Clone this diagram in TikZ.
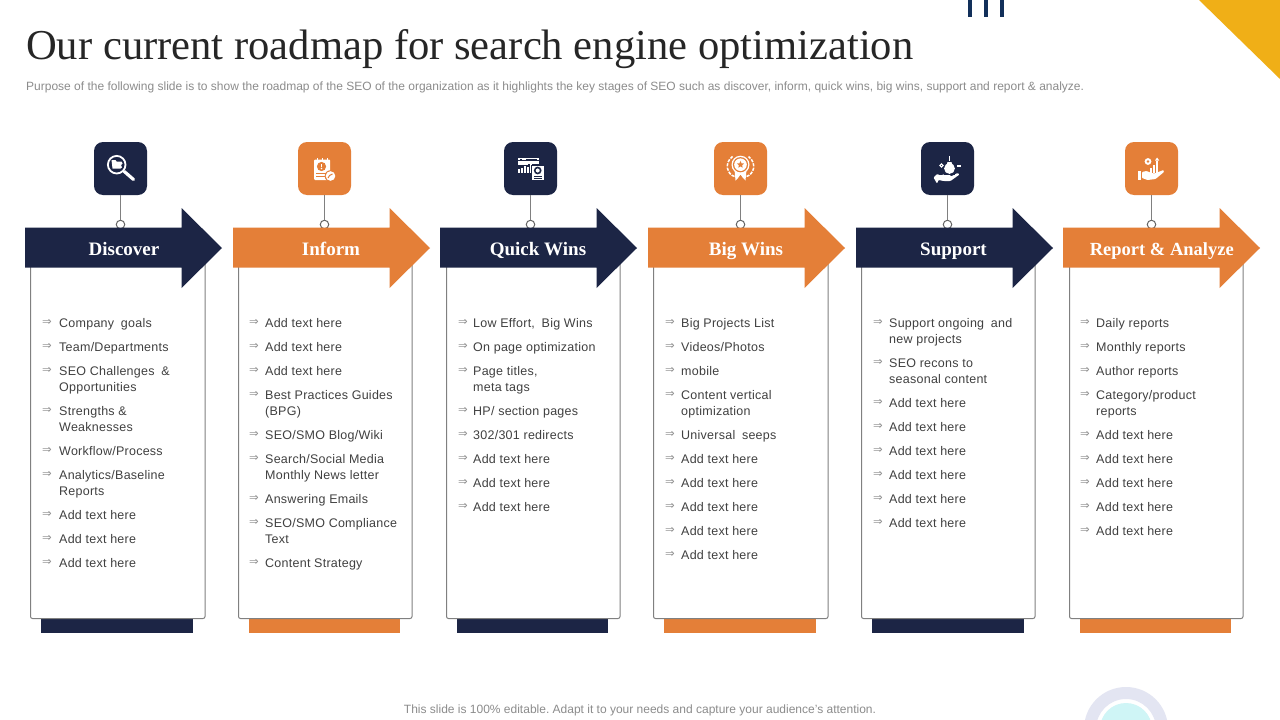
\documentclass[tikz,border=0pt]{standalone}
\usepackage{fontspec}
\setmainfont{Liberation Sans}
\newfontfamily\serifb{Liberation Serif}
\newfontfamily\symb{DejaVu Sans}
\newfontfamily\bodyf[LetterSpace=2]{Liberation Sans}
\usetikzlibrary{shapes.geometric}
\definecolor{navy}{HTML}{1C2545}
\definecolor{orng}{HTML}{E47F38}
\definecolor{gold}{HTML}{F0AF17}
\definecolor{barblue}{HTML}{12305A}
\definecolor{linegray}{HTML}{808080}
\definecolor{bodytxt}{HTML}{404040}
\definecolor{subtxt}{HTML}{8C8C8C}
\definecolor{ringc}{HTML}{E3E5F2}
\definecolor{cyanc}{HTML}{CFF5F6}
\definecolor{titlec}{HTML}{262626}
\newcommand{\wgap}{\hspace{3pt}}
\frenchspacing
\tikzset{
  x=1pt,y=-1pt,
  card/.style={draw=linegray,line width=1pt,fill=white,rounded corners=2pt},
  iconbox/.style={minimum width=53pt,minimum height=53pt,inner sep=0pt,rounded corners=9pt,draw=none},
  knob/.style={circle,draw=linegray!80!black,fill=white,line width=1pt,minimum size=8.5pt,inner sep=0pt},
  stem/.style={draw=linegray,line width=1pt},
  head/.style={anchor=base,font=\serifb\bfseries\fontsize{19}{22}\selectfont,inner sep=0pt},
  itemtxt/.style={anchor=north west,inner sep=0pt,align=left,text=bodytxt,font=\bodyf\fontsize{12.5}{16}\selectfont},
  bul/.style={inner sep=0pt,text=linegray!85,font=\symb\fontsize{11.5}{12}\selectfont},
}
\newcommand{\colitems}[4]{%
  \foreach \yy/\tt [count=\n] in {#4}{%
    \node[bul] (b#1\n) at (#2+5,\yy+0.7) {⇒};
    \node[itemtxt] (t#1\n) at (#3,\yy-6) {\strut\tt};
  }}
\newcommand{\stage}[9]{%
  \fill[#3] (#8,619) rectangle (#9,633);
  \node[card,minimum width=#7-#6,minimum height=357.5pt,anchor=north west,inner sep=0pt] (card#1) at (#6,260.5) {};
  \node[iconbox,fill=#3] (icon#1) at (\cx,168.5) {};
  \node[knob] (dot#1) at (\cx,224.5) {};
  \draw[stem] (icon#1.south) -- (dot#1.north);
  \fill[#3] (#2,227.5) -- (#2+156.5,227.5) -- (#2+156.5,208) -- (#2+197,248) -- (#2+156.5,288) -- (#2+156.5,267.5) -- (#2,267.5) -- cycle;
  \node[head,text=white] (label#1) at (#4,255) {#5};
}
\begin{document}
\begin{tikzpicture}
\useasboundingbox (0,0) rectangle (1280,720);
\clip (0,0) rectangle (1280,720);
\fill[white] (0,0) rectangle (1280,720);
% top decoration
\fill[gold] (1199,0) -- (1280,0) -- (1280,79) -- cycle;
\fill[barblue] (968,0) rectangle (972,17);
\fill[barblue] (984,0) rectangle (988,17);
\fill[barblue] (1000,0) rectangle (1004,17);
% bottom decoration
\fill[even odd rule,ringc] (1126,729) circle (42) (1126,729) circle (30);
\fill[cyanc] (1126,729) circle (26);
% title
\node[anchor=base west,inner sep=0pt,text=titlec,font=\serifb\fontsize{42.6}{46}\selectfont] (title) at (26,59) {Our current roadmap for search engine optimization};
\node[anchor=base west,inner sep=0pt,text=subtxt,font=\fontsize{12}{14}\selectfont] (sub) at (26,90) {Purpose of the following slide is to show the roadmap of the SEO of the organization as it highlights the key stages of SEO such as discover, inform, quick wins, big wins, support and report \& analyze.};
\node[inner sep=0pt,text=subtxt,font=\fontsize{12}{14}\selectfont] (foot) at (640,710.5) {This slide is 100\% editable. Adapt it to your needs and capture your audience's attention.};

\def\cx{120.5}\stage{a}{25}{navy}{124}{Discover}{30}{204.5}{41}{193}
\def\cx{324.5}\stage{b}{233}{orng}{331}{Inform}{238}{411.5}{249}{400}
\def\cx{530.5}\stage{c}{440}{navy}{538}{Quick Wins}{446}{619.5}{457}{608}
\def\cx{740.5}\stage{d}{648}{orng}{746}{Big Wins}{653}{827.5}{664}{816}
\def\cx{947.5}\stage{e}{856}{navy}{953.5}{Support}{861}{1034.5}{872}{1024}
\def\cx{1151.5}\stage{f}{1063}{orng}{1161.8}{\fontsize{18.5}{22}\selectfont Report \& Analyze}{1069}{1242.5}{1080}{1231}

\colitems{a}{42}{59}{322/{Company\wgap{} goals},346/{Team/Departments},370/{SEO Challenges\wgap{} \&\\Opportunities},410/{Strengths \&\\Weaknesses},450/{Workflow/Process},474/{Analytics/Baseline\\Reports},514/{Add text here},538/{Add text here},562/{Add text here}}
\colitems{b}{249}{265}{322/{Add text here},346/{Add text here},370/{Add text here},394/{Best Practices Guides\\(BPG)},434/{SEO/SMO Blog/Wiki},458/{Search/Social Media\\Monthly News letter},498/{Answering Emails},522/{SEO/SMO Compliance\\Text},562/{Content Strategy}}
\colitems{c}{458}{473}{322/{Low Effort,\wgap{} Big Wins},346/{On page optimization},370/{Page titles,\\meta tags},410/{HP/ section pages},434/{302/301 redirects},458/{Add text here},482/{Add text here},506/{Add text here}}
\colitems{d}{665}{681}{322/{Big Projects List},346/{Videos/Photos},370/{mobile},394/{Content vertical\\optimization},434/{Universal\wgap{} seeps},458/{Add text here},482/{Add text here},506/{Add text here},530/{Add text here},554/{Add text here}}
\colitems{e}{873}{889}{322/{Support ongoing\wgap{} and\\new projects},362/{SEO recons to\\seasonal content},402/{Add text here},426/{Add text here},450/{Add text here},474/{Add text here},498/{Add text here},522/{Add text here}}
\colitems{f}{1080}{1096}{322/{Daily reports},346/{Monthly reports},370/{Author reports},394/{Category/product\\reports},434/{Add text here},458/{Add text here},482/{Add text here},506/{Add text here},530/{Add text here}}

% icon 1: magnifier
\begin{scope}[shift={(120.5,168.5)}]
  \draw[white,line width=1.8pt] (-3.8,-3.8) circle (8.8);
  \fill[white] (-9,-8.5) -- (-5,-8.5) -- (-4,-7) -- (1,-7) -- (2,-5) -- (0.5,-3.5) -- (1.5,-1) -- (0,0) -- (-8,0) -- cycle;
  \draw[white,line width=3.2pt,line cap=round] (3.8,3) -- (13,11);
\end{scope}
% icon 2: notepad
\begin{scope}[shift={(324.5,168.5)}]
  \fill[white,rounded corners=1pt] (-10.5,-9) rectangle (5.5,11.5);
  \fill[white] (-8,-11) rectangle (-7,-8);\fill[white] (-3,-11) rectangle (-2,-8);\fill[white] (2,-11) rectangle (3,-8);
  \fill[orng] (-3,-2) circle (4.6);
  \fill[white] (-3.6,-5) rectangle (-2.4,-1.4);\fill[white] (-3,0) circle (0.8);
  \fill[orng] (-9,4.2) rectangle (2,5.2);\fill[orng] (-9,7.5) rectangle (0,8.5);
  \fill[orng] (6,7.5) circle (5.8);
  \fill[white] (6,7.5) circle (4.8);
  \draw[orng,line width=1pt] (3.5,9.5) to[bend left=30] (8,5.5);
\end{scope}
% icon 3: dashboard
\begin{scope}[shift={(530.5,168.5)}]
  \fill[white] (-13,-11) rectangle (8,-8.2);
  \fill[navy] (-11,-10) rectangle (-9,-9.2);\fill[navy] (-5,-10) rectangle (6,-9.2);
  \fill[white] (-13,-7.2) rectangle (8,-5);
  \fill[white] (-13,-4.2) rectangle (-3,-3.4);
  \foreach \bx/\by in {-13/0,-10/-1,-7/-2.5,-4/-2,-1/-4.4,2/-2}{\fill[white] (\bx,\by) rectangle (\bx+2.2,4.5);}
  \fill[navy] (0.5,-4) rectangle (14,12);
  \fill[white] (1.5,-3) rectangle (13,11);
  \draw[navy,line width=1.6pt] (7.2,2) circle (3);
  \fill[navy] (3.5,7.2) rectangle (11,8);
  \fill[navy] (3.5,9) rectangle (11,9.6);
\end{scope}
% icon 4: badge
\begin{scope}[shift={(740.5,168.5)}]
  \fill[white] (-6,1) -- (-5,12) -- (-2.5,9.5) -- (0,6) -- (2.5,9.5) -- (5,12) -- (6,1) -- cycle;
  \fill[orng] (0,7) -- (-1.2,12.5) -- (1.2,12.5) -- cycle;
  \fill[white] (0,-3.8) circle (9);
  \fill[orng] (0,-3.8) circle (7.6);
  \fill[white] (0,-3.8) circle (6.3);
  \node[star,star points=5,star point ratio=2.2,fill=orng,minimum size=7.5pt,inner sep=0pt] (star4) at (0,-3.8) {};
  \draw[white,line width=1.5pt,dash pattern=on 3.2pt off 1.2pt] (-6,8) .. controls (-13,6) and (-17,-5) .. (-8,-12);
  \draw[white,line width=1.5pt,dash pattern=on 3.2pt off 1.2pt] (6,8) .. controls (13,6) and (17,-5) .. (8,-12);
\end{scope}
% icon 5: hand with bag
\begin{scope}[shift={(947.5,168.5)}]
  \fill[white,rounded corners=0.8pt] (-14,9) -- (-10.5,5.5) -- (-7,7) -- (-2.5,5.5) -- (2,6) -- (3.5,8) -- (10,4.5) -- (12,6) -- (3,12.5) -- (-4,12.5) -- (-9,11.5) -- (-10.5,15) -- cycle;
  \fill[white] (2,0) circle (5.4);
  \fill[navy] (-3.5,5) rectangle (7.5,5.8);
  \fill[white] (0,-6.5) -- (4,-6.5) -- (5,-3) -- (-1,-3) -- cycle;
  \fill[white] (1.6,-13) rectangle (2.4,-7.5);
  \draw[white,line width=1pt] (-6,-3) circle (1.6);
  \fill[white] (9.5,-4) rectangle (13,-1.5);
\end{scope}
% icon 6: hand with chart
\begin{scope}[shift={(1151.5,168.5)}]
  \fill[white] (-13.5,2.5) rectangle (-10.3,11.5);
  \fill[white,rounded corners=0.8pt] (-9.5,3.5) -- (-5,2.5) -- (0,4.5) -- (3,5) -- (12,1.5) -- (12.5,3.5) -- (4,10.5) -- (-4,11.5) -- (-9.5,9.5) -- cycle;
  \fill[white] (-1.5,-1) rectangle (0.7,4);\fill[white] (1.5,-4) rectangle (3.7,4.5);\fill[white] (4.5,-8) rectangle (6.7,4);
  \fill[white] (-3.5,-7) circle (3.4);\fill[orng] (-3.5,-7) circle (1.4);
  \fill[white] (5.6,-11) -- (3.5,-8) -- (7.7,-8) -- cycle;
\end{scope}
\end{tikzpicture}
\end{document}
